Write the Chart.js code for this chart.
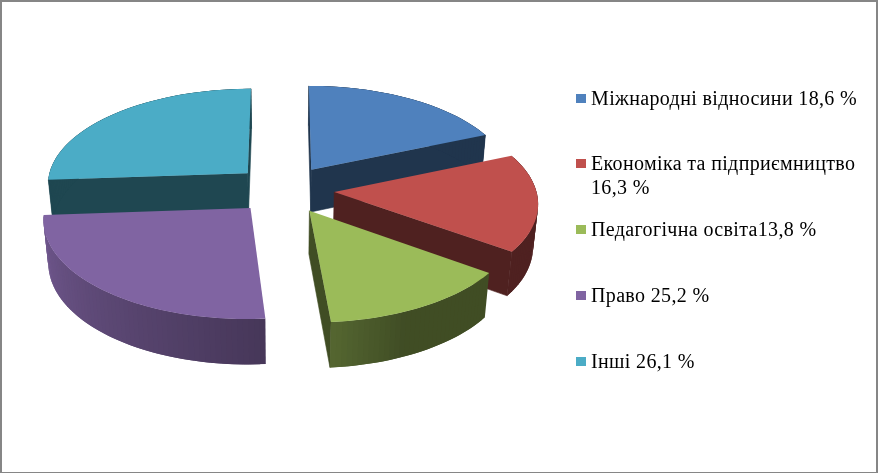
<!DOCTYPE html>
<html lang="uk">

<head>
    <meta charset="UTF-8">
    <title>Pie 3D</title>
    <script src="https://cdn.jsdelivr.net/npm/chart.js"></script>
    <style>
        html, body { margin: 0; padding: 0; background: #fff; width: 878px; height: 473px; overflow: hidden; }
        #grafico { position: absolute; left: 0; top: 0; }
        #moldura {
            position: absolute; left: 0; top: 0; right: 0; bottom: 0;
            border: solid #868686; border-width: 2px 2px 1px 2px;
            pointer-events: none;
        }
        #legenda { position: absolute; left: 0; top: 0; font-family: 'Liberation Serif', serif; font-size: 20px; letter-spacing: 0.35px; line-height: 23.3px; color: #000; }
        .item { position: absolute; left: 591px; width: 282px; }
        .item i { position: absolute; left: -15px; top: 7px; width: 10px; height: 9px; }
    </style>
</head>

<body>
    <canvas id="grafico" width="878" height="473"></canvas>
    <div id="legenda"></div>
    <div id="moldura"></div>

    <script>
        const categories = ['Міжнародні відносини 18,6 %', 'Економіка та підприємництво 16,3 %', 'Педагогічна освіта13,8 %', 'Право 25,2 %', 'Інші 26,1 %'];
        const values = [18.6, 16.3, 13.8, 25.2, 26.1];
        const colors = ['#4F81BD', '#C0504D', '#9BBB59', '#8064A2', '#4BACC6'];

        // projection of the tilted pie (fitted on the picture)
        const cx = 284, cy = 189.4, ax = 201.7, by = 96, persp = 0.1;
        const explode = 0.25, depth = 43.5, deepen = 0.02;

        function project(x, y, low) {
            const w = 1 - persp * y + (low ? deepen : 0);
            return [cx + ax * x / w, cy + (by * y + (low ? depth : 0)) / w];
        }

        function shade(hex, f) {
            const n = parseInt(hex.slice(1), 16);
            return 'rgb(' + Math.round((n >> 16) * f) + ',' + Math.round(((n >> 8) & 255) * f) + ',' + Math.round((n & 255) * f) + ')';
        }

        // wall brightness by angle, degrees clockwise from the top
        function wallLight(deg) {
            if (deg <= 155) return 0.41;
            if (deg <= 175) return 0.41 + (deg - 155) / 20 * 0.14;
            if (deg <= 260) return 0.55 + (deg - 175) / 85 * 0.32;
            if (deg <= 265.5) return 0.87;
            return 0.41;
        }

        function fillPoly(ctx, pts, color, seam) {
            ctx.beginPath();
            pts.forEach((p, i) => i ? ctx.lineTo(p[0], p[1]) : ctx.moveTo(p[0], p[1]));
            ctx.closePath();
            ctx.fillStyle = color;
            ctx.fill();
            if (seam) {
                ctx.strokeStyle = color;
                ctx.lineWidth = 0.6;
                ctx.stroke();
            }
        }

        function drawSlice(ctx, s) {
            const steps = Math.ceil((s.end - s.start) * 40);
            const at = (i) => s.start + (s.end - s.start) * i / steps;
            const rim = (t, low) => project(s.ox + Math.sin(t), s.oy - Math.cos(t), low);
            const flat = shade(s.color, 0.41);

            // radial faces, only those turned to the viewer
            [[s.start, -Math.PI / 2], [s.end, Math.PI / 2]].forEach(([t, turn]) => {
                if (-Math.cos(t + turn) < -0.05) return;
                fillPoly(ctx, [project(s.ox, s.oy, false), rim(t, false), rim(t, true), project(s.ox, s.oy, true)], flat, true);
            });

            // curved wall
            for (let i = 0; i < steps; i++) {
                const t0 = at(i), t1 = at(Math.min(i + 2, steps));
                fillPoly(ctx, [rim(t0, false), rim(t1, false), rim(t1, true), rim(t0, true)], shade(s.color, wallLight(t0 * 180 / Math.PI)));
            }

            // top
            const top = [project(s.ox, s.oy, false)];
            for (let i = 0; i <= steps; i++) top.push(rim(at(i), false));
            fillPoly(ctx, top, s.color);
        }

        const pie3d = {
            id: 'pie3d',
            beforeDatasetsDraw(chart) {
                const ctx = chart.ctx;
                const slices = chart.getDatasetMeta(0).data.map((arc, i) => {
                    const start = arc.startAngle + Math.PI / 2, end = arc.endAngle + Math.PI / 2;
                    const mid = (start + end) / 2;
                    return { start, end, color: colors[i], ox: explode * Math.sin(mid), oy: -explode * Math.cos(mid) };
                });
                slices.sort((a, b) => a.oy - b.oy).forEach(s => drawSlice(ctx, s));
                return false;
            }
        };

        new Chart(document.getElementById('grafico'), {
            type: 'pie',
            data: {
                labels: categories,
                datasets: [{ data: values, backgroundColor: colors, borderWidth: 0 }]
            },
            options: {
                responsive: false,
                animation: false,
                plugins: { legend: { display: false }, tooltip: { enabled: false } }
            },
            plugins: [pie3d]
        });

        const legenda = document.getElementById('legenda');
        categories.forEach((nome, i) => {
            const item = document.createElement('div');
            item.className = 'item';
            item.style.top = (86.5 + i * 65.8) + 'px';
            item.innerHTML = '<i style="background:' + colors[i] + '"></i>' + nome;
            legenda.appendChild(item);
        });
    </script>
</body>

</html>
